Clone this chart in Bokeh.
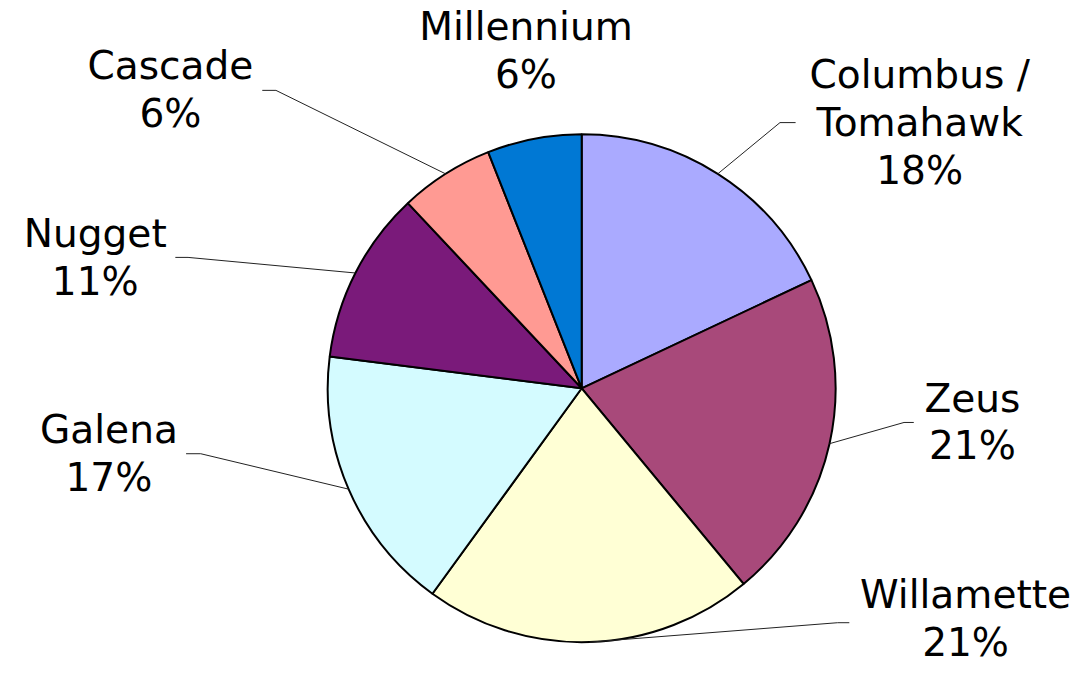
import numpy as np
from bokeh.plotting import figure
from bokeh.models import Range1d, ColumnDataSource
from bokeh.embed import file_html
from bokeh.resources import INLINE
from bokeh.core.properties import value

# ---- data ----
names = ["Columbus /\nTomahawk", "Zeus", "Willamette", "Galena", "Nugget", "Cascade", "Millennium"]
shares = [18, 21, 21, 17, 11, 6, 6]
colors = ["#AAAAFF", "#A8497A", "#FFFFD5", "#D4FBFF", "#7A1A7A", "#FF9A93", "#0078D4"]

# ---- layout (reference pixel coords: label centre x, first baseline y) ----
label_pos = [(929, 92), (983, 423), (976, 624), (99, 455), (85, 255), (162, 83), (526, 43)]
# leader line text-side points (start, elbow) ; None = no leader
leader_pts = [((802, 125), (786, 125)), ((923, 432), (913, 432)), ((857, 637), (845, 637)),
              ((178, 464), (193, 464)), ((167, 263), (180, 263)), ((256, 92), (270, 92)), None]

REF_H = 689
W, H = 1076, 673
s = H / REF_H                 # uniform pixel scale
x0r = -12
cx, cy, r = 583, REF_H - 397, 260
font = "DejaVu Sans"
fsize = 40 * s
line_gap = 49
base_fix = 16                 # svg text baseline correction (reference px)

p = figure(width=W, height=H, x_range=Range1d(x0r, x0r + W / s), y_range=Range1d(0, REF_H),
           output_backend="svg", toolbar_location=None, min_border=0)
p.axis.visible = False
p.xgrid.visible = False
p.ygrid.visible = False
p.outline_line_color = None
p.background_fill_color = "white"
p.border_fill_color = "white"

total = float(sum(shares))
cum = np.concatenate([[0], np.cumsum(shares)]) / total * 360.0  # clockwise from top
a0 = cum[:-1]
a1 = cum[1:]
start = np.deg2rad(90 - a1)
end = np.deg2rad(90 - a0)
mid = np.deg2rad(90 - (a0 + a1) / 2)

src = ColumnDataSource(dict(start=start, end=end, color=colors))
p.wedge(x=cx, y=cy, radius=r, start_angle="start", end_angle="end",
        fill_color="color", line_color="black", line_width=2, source=src)

# leader lines
xs, ys = [], []
for i, lp in enumerate(leader_pts):
    if lp is None:
        continue
    ax = cx + r * np.cos(mid[i])
    ay = cy + r * np.sin(mid[i])
    (xa, ya), (xb, yb) = lp
    xs.append([xa, xb, ax])
    ys.append([REF_H - ya, REF_H - yb, ay])
p.multi_line(xs=xs, ys=ys, line_color="#222222", line_width=1)

# labels
tx, ty, tt = [], [], []
for i, nm in enumerate(names):
    lines = nm.split("\n") + [f"{shares[i]}%"]
    x, y = label_pos[i]
    for k, ln in enumerate(lines):
        tx.append(x)
        ty.append(REF_H - (y + k * line_gap - base_fix))
        tt.append(ln)
p.text(x=tx, y=ty, text=tt, text_align="center", text_baseline="alphabetic",
       text_font=value(font), text_font_size=f"{fsize:.1f}px", text_color="black")

open("out.html", "w").write(file_html(p, INLINE))
